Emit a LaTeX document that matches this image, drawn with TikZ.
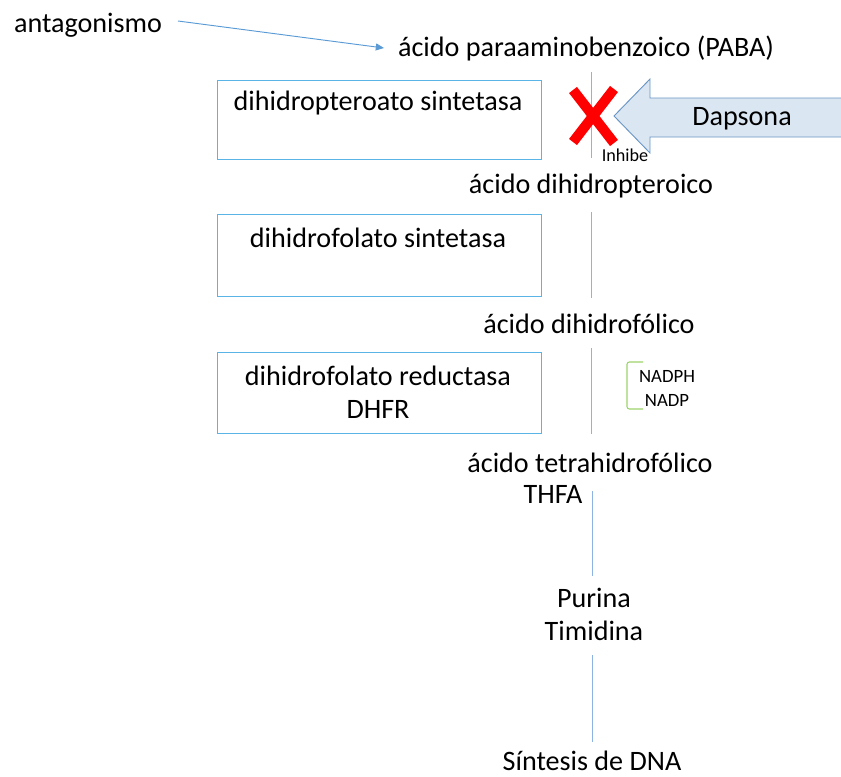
\documentclass[tikz,border=0pt]{standalone}
\usepackage{fontspec}
\setmainfont{Carlito}
\usetikzlibrary{arrows.meta}
\definecolor{boxblue}{HTML}{5AB4E6}
\definecolor{lineblue}{HTML}{8DB3E2}
\definecolor{arrowblue}{HTML}{5B9BD5}
\definecolor{dapfill}{HTML}{DAE6F2}
\definecolor{dapline}{HTML}{6A96C4}
\definecolor{bracketgreen}{HTML}{9CD46C}
\tikzset{
  bigtext/.style={font=\fontsize{24}{29}\selectfont, inner sep=0pt, anchor=base},
  smalltext/.style={font=\fontsize{15.5}{18}\selectfont, inner sep=0pt, anchor=base},
  enzbox/.style={draw=boxblue, line width=0.9pt, anchor=north west, inner sep=0pt},
  pathline/.style={draw=lineblue, line width=0.8pt}
}
\begin{document}
\begin{tikzpicture}[x=0.03cm, y=-0.03cm]
\useasboundingbox (0,0) rectangle (841,776);

% Drawing the substrates
\node[bigtext] (antag) at (88,32) {antagonismo};
\node[bigtext] (paba) at (586,56) {ácido paraaminobenzoico (PABA)};
\node[bigtext] (pteroico) at (591,193) {ácido dihidropteroico};
\node[bigtext] (dhf) at (589,333) {ácido dihidrofólico};
\node[bigtext] (thf) at (590,472) {ácido tetrahidrofólico};
\node[bigtext] (thfa) at (553,503) {THFA};
\node[bigtext] (purina) at (594,607) {Purina};
\node[bigtext] (timidina) at (594,640) {Timidina};
\node[bigtext] (dna) at (592,770) {Síntesis de DNA};

% Drawing the enzyme boxes
\node[enzbox, minimum width=9.72cm, minimum height=2.37cm] (dhps) at (217,80) {};
\node[bigtext] (dhpstext) at (378,110) {dihidropteroato sintetasa};
\node[enzbox, minimum width=9.72cm, minimum height=2.46cm] (dhfs) at (217,214) {};
\node[bigtext] (dhfstext) at (378,247) {dihidrofolato sintetasa};
\node[enzbox, minimum width=9.72cm, minimum height=2.43cm] (dhfr) at (217,352) {};
\node[bigtext] (dhfrtext) at (378,385) {dihidrofolato reductasa};
\node[bigtext] (dhfrname) at (378,418) {DHFR};

% Drawing the pathway lines
\coordinate (l1a) at (591,72);  \coordinate (l1b) at (591,158);
\coordinate (l2a) at (591,212); \coordinate (l2b) at (591,298);
\coordinate (l3a) at (591,348); \coordinate (l3b) at (591,434);
\coordinate (l4a) at (592,491); \coordinate (l4b) at (592,576);
\coordinate (l5a) at (592,655); \coordinate (l5b) at (592,742);
\draw[pathline] (l1a) -- (l1b);
\draw[pathline] (l2a) -- (l2b);
\draw[pathline] (l3a) -- (l3b);
\draw[pathline] (l4a) -- (l4b);
\draw[pathline] (l5a) -- (l5b);

% Drawing antagonism arrow
\coordinate (antagend) at (178,21);
\coordinate (pabatip) at (384,48);
\draw[arrowblue, line width=0.8pt, -{Triangle[length=7pt,width=6pt]}]
  (antagend) -- (pabatip);

% Drawing the red cross
\draw[red, line width=0.3cm] (573,90) -- (614,143);
\draw[red, line width=0.3cm] (614,89) -- (573,142);

% Drawing Dapsona block arrow
\draw[dapline, fill=dapfill, line width=0.8pt]
  (614,116) -- (650,79) -- (650,98) -- (845,98) -- (845,137) -- (650,137) -- (650,153) -- cycle;
\node[bigtext] (dapsona) at (742,125) {Dapsona};
\node[smalltext] (inhibe) at (625,161) {Inhibe};

% Drawing cofactor bracket
\draw[bracketgreen, line width=0.9pt, rounded corners=2pt]
  (643,362) -- (627,362) -- (627,409) -- (643,409);
\node[smalltext, font=\fontsize{16}{19}\selectfont] (nadph) at (667,382) {NADPH};
\node[smalltext, font=\fontsize{16}{19}\selectfont] (nadp) at (667,406) {NADP};
\end{tikzpicture}
\end{document}
